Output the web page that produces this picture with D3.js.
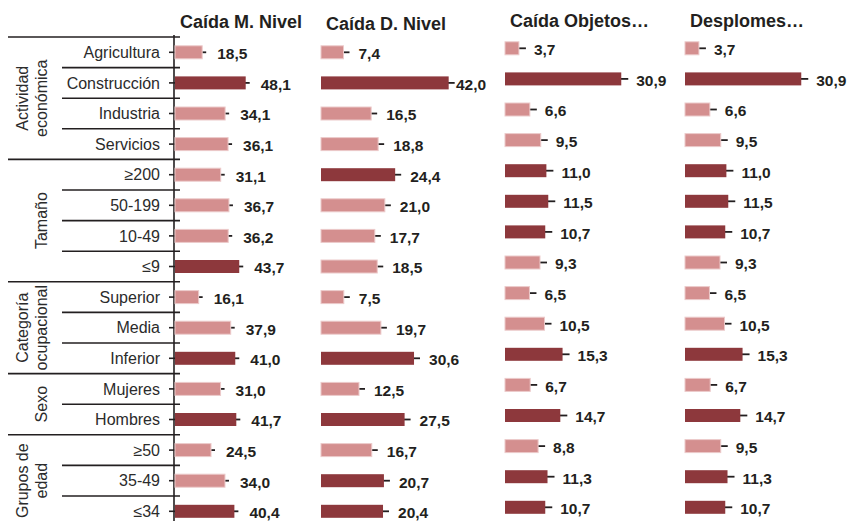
<!DOCTYPE html>
<html>
<head>
<meta charset="utf-8">
<script src="https://cdn.jsdelivr.net/npm/d3@7"></script>
<style>
  body { margin: 0; background: #fff; }
  svg { display: block; font-family: "Liberation Sans", Arial, Helvetica, sans-serif; }
</style>
</head>
<body>
<svg id="chart" width="849" height="521"></svg>
<script>
// categories (rows, top to bottom)
var rows = ["Agricultura", "Construcción", "Industria", "Servicios",
  "≥200", "50-199", "10-49", "≤9",
  "Superior", "Media", "Inferior",
  "Mujeres", "Hombres",
  "≥50", "35-49", "≤34"];

// row groups: label lines and how many rows each covers
var groupNames = [["Actividad", "económica"], ["Tamaño"], ["Categoría", "ocupacional"], ["Sexo"], ["Grupos de", "edad"]];
var groupSizes = [4, 4, 3, 2, 3];

var titles = ["Caída M. Nivel", "Caída D. Nivel", "Caída Objetos…", "Desplomes…"];

// values per panel (%)
var caidaMNivel = [18.5, 48.1, 34.1, 36.1, 31.1, 36.7, 36.2, 43.7, 16.1, 37.9, 41.0, 31.0, 41.7, 24.5, 34.0, 40.4];
var caidaDNivel = [7.4, 42.0, 16.5, 18.8, 24.4, 21.0, 17.7, 18.5, 7.5, 19.7, 30.6, 12.5, 27.5, 16.7, 20.7, 20.4];
var caidaObjetos = [3.7, 30.9, 6.6, 9.5, 11.0, 11.5, 10.7, 9.3, 6.5, 10.5, 15.3, 6.7, 14.7, 8.8, 11.3, 10.7];
var desplomes = [3.7, 30.9, 6.6, 9.5, 11.0, 11.5, 10.7, 9.3, 6.5, 10.5, 15.3, 6.7, 14.7, 9.5, 11.3, 10.7];

// highlighted (dark) bars per panel
var darkMNivel = [0, 1, 0, 0, 0, 0, 0, 1, 0, 0, 1, 0, 1, 0, 0, 1];
var darkDNivel = [0, 1, 0, 0, 1, 0, 0, 0, 0, 0, 1, 0, 1, 0, 1, 1];
var darkObjetos = [0, 1, 0, 0, 1, 1, 1, 0, 0, 0, 1, 0, 1, 0, 1, 1];
var darkDesplomes = [0, 1, 0, 0, 1, 1, 1, 0, 0, 0, 1, 0, 1, 0, 1, 1];

var series = [caidaMNivel, caidaDNivel, caidaObjetos, desplomes];
var darks = [darkMNivel, darkDNivel, darkObjetos, darkDesplomes];

// layout of each panel
var panels = [
  { x0: 175, max: 50, w: 73.5, dy: 0, titleY: 28, whisk: 4, labelMax: 999 },
  { x0: 321, max: 50, w: 152, dy: 0, titleY: 30, whisk: 6, labelMax: 456 },
  { x0: 505, max: 40, w: 150.5, dy: -4, titleY: 27, whisk: 7, labelMax: 999 },
  { x0: 685, max: 40, w: 150.5, dy: -4, titleY: 27, whisk: 7, labelMax: 999 }
];

var ink = "#231f20",
  darkColor = "#8d383c",
  lightColor = "#d48f8f",
  lightEdge = "#eccaca",
  barH = 13,
  rowTop = 37,
  band = 30.6;

var svg = d3.select("#chart");

var y = d3.scaleBand()
  .domain(rows)
  .range([rowTop, rowTop + band * rows.length])
  .paddingInner(0).paddingOuter(0);

var fmt = d3.formatLocale({ decimal: ",", thousands: ".", grouping: [3], currency: ["", "€"] }).format(".1f");

// left side: category labels, separators, group titles
var left = svg.append("g");

left.selectAll("text.cat")
  .data(rows)
  .enter().append("text")
  .attr("class", "cat")
  .attr("x", 160)
  .attr("y", function (d) { return y(d) + y.bandwidth() / 2; })
  .attr("dy", "0.35em")
  .attr("text-anchor", "end")
  .attr("font-size", "16px")
  .attr("fill", "#2b2b2b")
  .text(function (d) { return d; });

var start = 0;
groupSizes.forEach(function (n, gi) {
  var gy = y(rows[start]);
  left.append("line")
    .attr("x1", 8).attr("x2", 180)
    .attr("y1", gy).attr("y2", gy)
    .attr("stroke", ink).attr("stroke-width", 1.6);
  for (var k = 1; k < n; k++) {
    var ry = y(rows[start + k]);
    left.append("line")
      .attr("x1", 62).attr("x2", 180)
      .attr("y1", ry).attr("y2", ry)
      .attr("stroke", ink).attr("stroke-width", 1.6);
  }
  var cy = gy + (n * y.bandwidth()) / 2;
  var lines = groupNames[gi];
  lines.forEach(function (t, li) {
    var cx = lines.length == 2 ? (li == 0 ? 22.5 : 41) : 41;
    left.append("text")
      .attr("transform", "translate(" + cx + "," + cy + ") rotate(-90)")
      .attr("dy", "0.35em")
      .attr("text-anchor", "middle")
      .attr("font-size", "16px")
      .attr("fill", "#2b2b2b")
      .text(t);
  });
  start += n;
});

// vertical axis with ticks
left.append("line")
  .attr("x1", 174).attr("x2", 174)
  .attr("y1", 35).attr("y2", 521)
  .attr("stroke", ink).attr("stroke-width", 1.6);

left.selectAll("line.tick")
  .data(rows)
  .enter().append("line")
  .attr("class", "tick")
  .attr("x1", 169).attr("x2", 179)
  .attr("y1", function (d) { return y(d) + y.bandwidth() / 2; })
  .attr("y2", function (d) { return y(d) + y.bandwidth() / 2; })
  .attr("stroke", ink).attr("stroke-width", 1.6);

// panels
panels.forEach(function (p, pi) {
  var x = d3.scaleLinear().domain([0, p.max]).range([p.x0, p.x0 + p.w]);
  var vals = series[pi];
  var dark = darks[pi];
  var g = svg.append("g");

  g.append("text")
    .attr("x", p.x0 + 5)
    .attr("y", p.titleY)
    .attr("font-size", "18px")
    .attr("font-weight", "bold")
    .attr("fill", ink)
    .text(titles[pi]);

  var cyOf = function (i) { return y(rows[i]) + y.bandwidth() / 2 + p.dy; };

  // whiskers
  g.selectAll("line.err")
    .data(vals)
    .enter().append("line")
    .attr("class", "err")
    .attr("x1", function (d) { return x(d) - 1; })
    .attr("x2", function (d) { return x(d) + p.whisk; })
    .attr("y1", function (d, i) { return cyOf(i); })
    .attr("y2", function (d, i) { return cyOf(i); })
    .attr("stroke", ink).attr("stroke-width", 1.8);

  g.selectAll("rect.bar")
    .data(vals)
    .enter().append("rect")
    .attr("class", "bar")
    .attr("x", x(0))
    .attr("y", function (d, i) { return cyOf(i) - barH / 2; })
    .attr("width", function (d) { return x(d) - x(0); })
    .attr("height", barH)
    .attr("fill", function (d, i) { return dark[i] ? darkColor : lightColor; })
    .attr("stroke", function (d, i) { return dark[i] ? "none" : lightEdge; })
    .attr("stroke-width", 1);

  g.selectAll("text.val")
    .data(vals)
    .enter().append("text")
    .attr("class", "val")
    .attr("x", function (d) { return Math.min(x(d) + 15, p.labelMax); })
    .attr("y", function (d, i) { return cyOf(i); })
    .attr("dy", "0.45em")
    .attr("font-size", "15.5px")
    .attr("font-weight", "bold")
    .attr("fill", ink)
    .text(function (d) { return fmt(d); });
});
</script>
</body>
</html>
